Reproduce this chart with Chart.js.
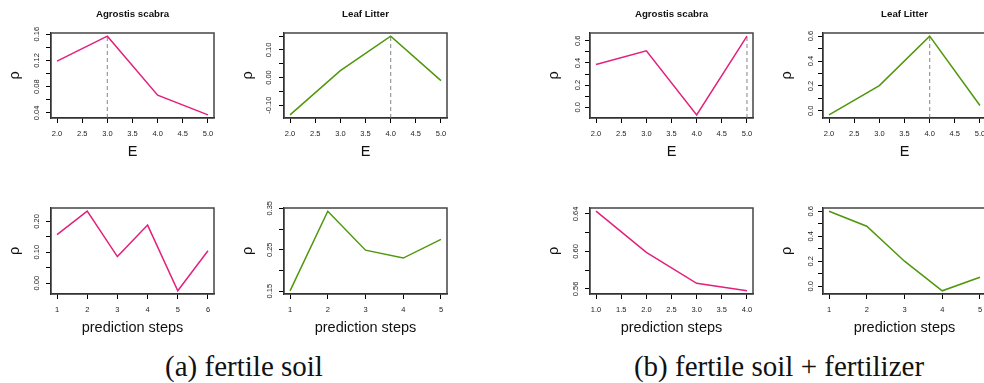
<!DOCTYPE html>
<html>
<head>
<meta charset="utf-8">
<script src="https://cdn.jsdelivr.net/npm/chart.js@4.4.1/dist/chart.umd.min.js"></script>
<style>
  body { margin: 0; width: 984px; height: 383px; overflow: hidden; background: #fff; position: relative; }
  canvas { position: absolute; }
  .caption { position: absolute; font-family: "Liberation Serif", serif; font-size: 29px; color: #111;
             transform: translateX(-50%); white-space: nowrap; line-height: 29px; }
</style>
</head>
<body>
<canvas id="aTopLeft" width="230" height="170" style="left:0px;top:0px"></canvas>
<canvas id="aTopRight" width="230" height="170" style="left:233px;top:0px"></canvas>
<canvas id="aBotLeft" width="230" height="171" style="left:0px;top:175px"></canvas>
<canvas id="aBotRight" width="230" height="171" style="left:233px;top:175px"></canvas>
<canvas id="bTopLeft" width="230" height="170" style="left:539px;top:0px"></canvas>
<canvas id="bTopRight" width="230" height="170" style="left:772px;top:0px"></canvas>
<canvas id="bBotLeft" width="230" height="171" style="left:539px;top:175px"></canvas>
<canvas id="bBotRight" width="230" height="171" style="left:772px;top:175px"></canvas>
<div class="caption" style="left:244px;top:352px">(a) fertile soil</div>
<div class="caption" style="left:779px;top:352px">(b) fertile soil + fertilizer</div>
<script>
// embedding dimension E and prediction steps
const embedDims = [2, 3, 4, 5];
const stepsA_agrostis = [1, 2, 3, 4, 5, 6];
const stepsA_litter = [1, 2, 3, 4, 5];
const stepsB_agrostis = [1, 2, 3, 4];
const stepsB_litter = [1, 2, 3, 4, 5];

// rho vs E
const rhoE_a_agrostis = [0.119, 0.157, 0.067, 0.037];
const rhoE_a_litter = [-0.135, 0.025, 0.150, -0.011];
const rhoE_b_agrostis = [0.387, 0.510, -0.068, 0.642];
const rhoE_b_litter = [-0.032, 0.203, 0.600, 0.043];

// rho vs prediction steps
const rhoS_a_agrostis = [0.157, 0.233, 0.086, 0.188, -0.025, 0.105];
const rhoS_a_litter = [0.151, 0.343, 0.249, 0.230, 0.275];
const rhoS_b_agrostis = [0.643, 0.599, 0.566, 0.558];
const rhoS_b_litter = [0.600, 0.480, 0.200, -0.037, 0.072];

// chosen E (dashed line)
const bestE_a_agrostis = 3;
const bestE_a_litter = 4;
const bestE_b_agrostis = 5;
const bestE_b_litter = 4;

// tick labels
const xTicksE = [2.0, 2.5, 3.0, 3.5, 4.0, 4.5, 5.0];
const xLabelsE = ['2.0', '2.5', '3.0', '3.5', '4.0', '4.5', '5.0'];
const xTicks6 = [1, 2, 3, 4, 5, 6];
const xLabels6 = ['1', '2', '3', '4', '5', '6'];
const xTicks5 = [1, 2, 3, 4, 5];
const xLabels5 = ['1', '2', '3', '4', '5'];
const xTicks4 = [1.0, 1.5, 2.0, 2.5, 3.0, 3.5, 4.0];
const xLabels4 = ['1.0', '1.5', '2.0', '2.5', '3.0', '3.5', '4.0'];

const yTicks_aTL = [0.04, 0.06, 0.08, 0.10, 0.12, 0.14, 0.16];
const yLabels_aTL = ['0.04', '', '0.08', '', '0.12', '', '0.16'];
const yTicks_aTR = [-0.10, -0.05, 0.00, 0.05, 0.10, 0.15];
const yLabels_aTR = ['-0.10', '', '0.00', '', '0.10', ''];
const yTicks_aBL = [0.00, 0.05, 0.10, 0.15, 0.20];
const yLabels_aBL = ['0.00', '', '0.10', '', '0.20'];
const yTicks_aBR = [0.15, 0.20, 0.25, 0.30, 0.35];
const yLabels_aBR = ['0.15', '', '0.25', '', '0.35'];
const yTicks_tenths = [0.0, 0.1, 0.2, 0.3, 0.4, 0.5, 0.6];
const yLabels_tenths = ['0.0', '', '0.2', '', '0.4', '', '0.6'];
const yTicks_bBL = [0.56, 0.58, 0.60, 0.62, 0.64];
const yLabels_bBL = ['0.56', '', '0.60', '', '0.64'];

const PINK = '#E2207D';
const GREEN = '#4F970C';

Chart.defaults.font.family = '"Liberation Sans", Arial, sans-serif';

const boxPlugin = {
  id: 'box',
  afterDraw(chart) {
    const { ctx, chartArea: a } = chart;
    ctx.save();
    ctx.strokeStyle = '#444';
    ctx.lineWidth = 1.5;
    ctx.strokeRect(a.left, a.top, a.right - a.left, a.bottom - a.top);
    ctx.restore();
  }
};

function pad(lo, hi) {
  const d = (hi - lo) * 0.04;
  return [lo - d, hi + d];
}

function drawPanel(id, p) {
  const [xMin, xMax] = pad(Math.min(...p.x), Math.max(...p.x));
  const [yMin, yMax] = pad(Math.min(...p.rho), Math.max(...p.rho));
  const datasets = [{
    data: p.x.map((v, i) => ({ x: v, y: p.rho[i] })),
    borderColor: p.color,
    borderWidth: 1.5,
    pointRadius: 0,
    tension: 0
  }];
  if (p.bestE !== undefined) {
    const k = p.x.indexOf(p.bestE);
    datasets.push({
      data: [{ x: p.bestE, y: yMin }, { x: p.bestE, y: p.rho[k] }],
      borderColor: '#9a9a9a',
      borderWidth: 1.2,
      borderDash: [4, 3],
      pointRadius: 0
    });
  }
  new Chart(document.getElementById(id), {
    type: 'line',
    data: { datasets },
    plugins: [boxPlugin],
    options: {
      responsive: false,
      animation: false,
      layout: { padding: { top: p.title ? 0 : 33, right: 16, left: 0, bottom: 0 } },
      plugins: {
        legend: { display: false },
        tooltip: { enabled: false },
        title: {
          display: !!p.title,
          text: p.title,
          fullSize: false,
          color: '#111',
          font: { size: 9.7, weight: 'bold', lineHeight: '12px' },
          padding: { top: 8, bottom: 13 }
        }
      },
      scales: {
        x: {
          type: 'linear',
          min: xMin,
          max: xMax,
          afterBuildTicks: s => { s.ticks = p.xTicks.map(v => ({ value: v })); },
          afterFit: s => { s.height = 52; },
          border: { display: true, color: '#000', width: 1.2 },
          grid: { drawOnChartArea: false, drawTicks: true, tickLength: 5, color: '#000' },
          ticks: {
            autoSkip: false, maxRotation: 0, padding: 6, color: '#222',
            font: { size: 7.5 },
            callback: (v, i) => p.xLabels[i]
          },
          title: { display: true, text: p.xTitle, color: '#111', font: { size: 14.5 }, padding: { top: 0, bottom: 9.6 } }
        },
        y: {
          type: 'linear',
          min: yMin,
          max: yMax,
          afterBuildTicks: s => { s.ticks = p.yTicks.map(v => ({ value: v })); },
          afterFit: s => { s.width = 51; },
          border: { display: true, color: '#000', width: 1.2 },
          grid: { drawOnChartArea: false, drawTicks: true, tickLength: 5, color: '#000' },
          ticks: {
            autoSkip: false, minRotation: 90, maxRotation: 90, crossAlign: 'center', padding: 2,
            color: '#222', font: { size: 7.5 },
            callback: (v, i) => p.yLabels[i]
          },
          title: { display: true, text: 'ρ', color: '#111', font: { size: 14.5 }, padding: { top: 6, bottom: 0 } }
        }
      }
    }
  });
}

drawPanel('aTopLeft', { title: 'Agrostis scabra', x: embedDims, rho: rhoE_a_agrostis, color: PINK, bestE: bestE_a_agrostis,
  xTicks: xTicksE, xLabels: xLabelsE, yTicks: yTicks_aTL, yLabels: yLabels_aTL, xTitle: 'E' });
drawPanel('aTopRight', { title: 'Leaf Litter', x: embedDims, rho: rhoE_a_litter, color: GREEN, bestE: bestE_a_litter,
  xTicks: xTicksE, xLabels: xLabelsE, yTicks: yTicks_aTR, yLabels: yLabels_aTR, xTitle: 'E' });
drawPanel('aBotLeft', { x: stepsA_agrostis, rho: rhoS_a_agrostis, color: PINK,
  xTicks: xTicks6, xLabels: xLabels6, yTicks: yTicks_aBL, yLabels: yLabels_aBL, xTitle: 'prediction steps' });
drawPanel('aBotRight', { x: stepsA_litter, rho: rhoS_a_litter, color: GREEN,
  xTicks: xTicks5, xLabels: xLabels5, yTicks: yTicks_aBR, yLabels: yLabels_aBR, xTitle: 'prediction steps' });
drawPanel('bTopLeft', { title: 'Agrostis scabra', x: embedDims, rho: rhoE_b_agrostis, color: PINK, bestE: bestE_b_agrostis,
  xTicks: xTicksE, xLabels: xLabelsE, yTicks: yTicks_tenths, yLabels: yLabels_tenths, xTitle: 'E' });
drawPanel('bTopRight', { title: 'Leaf Litter', x: embedDims, rho: rhoE_b_litter, color: GREEN, bestE: bestE_b_litter,
  xTicks: xTicksE, xLabels: xLabelsE, yTicks: yTicks_tenths, yLabels: yLabels_tenths, xTitle: 'E' });
drawPanel('bBotLeft', { x: stepsB_agrostis, rho: rhoS_b_agrostis, color: PINK,
  xTicks: xTicks4, xLabels: xLabels4, yTicks: yTicks_bBL, yLabels: yLabels_bBL, xTitle: 'prediction steps' });
drawPanel('bBotRight', { x: stepsB_litter, rho: rhoS_b_litter, color: GREEN,
  xTicks: xTicks5, xLabels: xLabels5, yTicks: yTicks_tenths, yLabels: yLabels_tenths, xTitle: 'prediction steps' });
</script>
</body>
</html>
